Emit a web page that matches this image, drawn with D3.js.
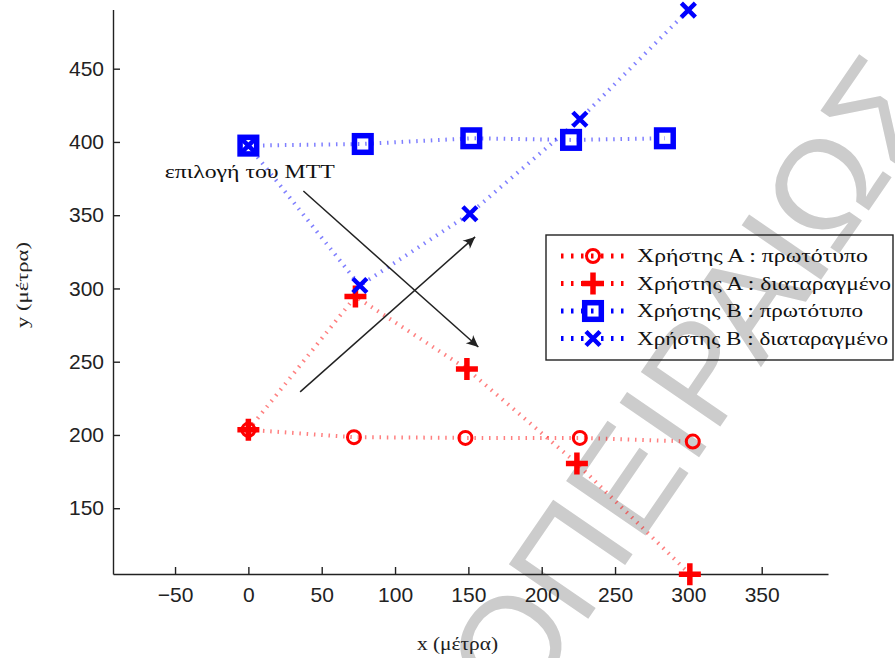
<!DOCTYPE html>
<html>
<head>
<meta charset="utf-8">
<style>
  body { margin: 0; background: white; }
  svg { display: block; }
</style>
</head>
<body>
<div id="chart"></div>
<script src="https://d3js.org/d3.v7.min.js"></script>
<script>
// ------------------------------------------------ data
var xTicks = [-50, 0, 50, 100, 150, 200, 250, 300, 350];
var yTicks = [150, 200, 250, 300, 350, 400, 450];

var aOrigX = [0, 72, 148, 226, 303];
var aOrigY = [203.5, 198.5, 198, 198, 195.5];
var aPertX = [0, 73, 149, 224, 301];
var aPertY = [203.5, 294.5, 245, 180.5, 105];
var bOrigX = [0, 78, 152, 220, 284];
var bOrigY = [397.5, 398.6, 402.5, 401.4, 402.5];
var bPertX = [0, 76, 151, 226, 300];
var bPertY = [397.5, 302, 351, 415.5, 490];

var seriesNames = ["Χρήστης Α : πρωτότυπο", "Χρήστης Α : διαταραγμένο",
                   "Χρήστης Β : πρωτότυπο", "Χρήστης Β : διαταραγμένο"];

// annotation arrows (data coords)
var arrowFrom = [[37.5, 366.5], [35.3, 229.4]];
var arrowTo = [[156.8, 260.0], [154.6, 335.2]];
var noteText = "επιλογή του MTT";
var notePos = [-57, 375.5];

var watermark = "ΟΠΕΙΡΑΙΩΣ";

// the original serif font is much wider than Liberation Serif, so stretch to measured widths
var legendTextLen = [231, 254, 226, 251];
var serif = "'Liberation Serif', 'Times New Roman', serif";

// ------------------------------------------------ setup
var width = 895, height = 658;
var svg = d3.select("#chart").append("svg")
    .attr("width", width)
    .attr("height", height);

var x = d3.scaleLinear().domain([-92.3, 395.2]).range([113, 828]);
var y = d3.scaleLinear().domain([105.1, 490.4]).range([574, 9.5]);

// watermark goes under everything
svg.append("text")
    .attr("transform", "translate(520,718) rotate(-55.5)")
    .style("font-family", "'Liberation Sans', Arial, sans-serif")
    .style("font-size", "140px")
    .style("fill", "#cccccc")
    .text(watermark);

// ------------------------------------------------ axes
svg.append("g")
    .attr("transform", "translate(0,574)")
    .call(d3.axisBottom(x).tickValues(xTicks).tickSizeInner(-7).tickSizeOuter(0).tickPadding(13));
svg.append("g")
    .attr("transform", "translate(113,0)")
    .call(d3.axisLeft(y).tickValues(yTicks).tickSizeInner(-7).tickSizeOuter(0).tickPadding(9));

svg.selectAll(".tick text")
    .style("font-family", "'Liberation Sans', Arial, sans-serif")
    .style("font-size", "21px")
    .style("fill", "#222");
svg.selectAll(".domain, .tick line")
    .style("stroke", "#222")
    .style("stroke-width", 1.4);

svg.append("text")
    .attr("x", 457.5).attr("y", 650)
    .attr("text-anchor", "middle")
    .attr("textLength", 81).attr("lengthAdjust", "spacingAndGlyphs")
    .style("font-family", serif)
    .style("font-size", "18px")
    .style("fill", "#222")
    .text("x (μέτρα)");

svg.append("text")
    .attr("transform", "translate(28,285) rotate(-90)")
    .attr("text-anchor", "middle")
    .attr("textLength", 86).attr("lengthAdjust", "spacingAndGlyphs")
    .style("font-family", serif)
    .style("font-size", "17px")
    .style("fill", "#222")
    .text("y (μέτρα)");

// ------------------------------------------------ markers
function drawMarker(g, kind, color) {
  if (kind == "circle") {
    g.append("circle").attr("r", 6.5)
      .style("fill", "none").style("stroke", color).style("stroke-width", 3);
  } else if (kind == "plus") {
    g.append("path").attr("d", "M-11,0H11M0,-11V11")
      .style("fill", "none").style("stroke", color).style("stroke-width", 5.5);
  } else if (kind == "square") {
    g.append("rect").attr("x", -8.3).attr("y", -8.3).attr("width", 16.6).attr("height", 16.6)
      .style("fill", "none").style("stroke", color).style("stroke-width", 5.5);
  } else {
    g.append("path").attr("d", "M-7,-7L7,7M-7,7L7,-7")
      .style("fill", "none").style("stroke", color).style("stroke-width", 4.5);
  }
}

var series = [
  {xs: aOrigX, ys: aOrigY, color: "#ff0000", kind: "circle"},
  {xs: aPertX, ys: aPertY, color: "#ff0000", kind: "plus"},
  {xs: bOrigX, ys: bOrigY, color: "#0000ff", kind: "square"},
  {xs: bPertX, ys: bPertY, color: "#0000ff", kind: "x"}
];

var line = d3.line()
    .x(function(d) { return x(d[0]); })
    .y(function(d) { return y(d[1]); });

series.forEach(function(s) {
  var pts = s.xs.map(function(v, i) { return [v, s.ys[i]]; });
  svg.append("path")
    .attr("d", line(pts))
    .style("fill", "none")
    .style("stroke", s.color)
    .style("stroke-opacity", 0.5)
    .style("stroke-width", 4)
    .style("stroke-dasharray", "1.5,5.8");
  pts.forEach(function(p) {
    var g = svg.append("g").attr("transform", "translate(" + x(p[0]) + "," + y(p[1]) + ")");
    drawMarker(g, s.kind, s.color);
  });
});

// ------------------------------------------------ annotation
svg.append("defs").append("marker")
    .attr("id", "head")
    .attr("viewBox", "-12 -6 13 12")
    .attr("refX", 0).attr("refY", 0)
    .attr("markerWidth", 13).attr("markerHeight", 12)
    .attr("markerUnits", "userSpaceOnUse")
    .attr("orient", "auto")
  .append("path")
    .attr("d", "M0,0 L-12,-5.5 Q-7,0 -12,5.5 Z")
    .style("fill", "#222");

arrowFrom.forEach(function(a, i) {
  svg.append("line")
    .attr("x1", x(a[0])).attr("y1", y(a[1]))
    .attr("x2", x(arrowTo[i][0])).attr("y2", y(arrowTo[i][1]))
    .attr("marker-end", "url(#head)")
    .style("stroke", "#222")
    .style("stroke-width", 1.5);
});

svg.append("text")
    .attr("x", x(notePos[0])).attr("y", y(notePos[1]))
    .attr("textLength", 170).attr("lengthAdjust", "spacingAndGlyphs")
    .style("font-family", serif)
    .style("font-size", "18px")
    .style("fill", "#111")
    .text(noteText);

// ------------------------------------------------ legend
var legend = svg.append("g");
legend.append("rect")
    .attr("x", 546).attr("y", 235)
    .attr("width", 347).attr("height", 125)
    .style("fill", "none")
    .style("stroke", "#222")
    .style("stroke-width", 1.4);

series.forEach(function(s, i) {
  var ry = 256 + i * 27.5;
  legend.append("line")
    .attr("x1", 561).attr("x2", 625).attr("y1", ry).attr("y2", ry)
    .style("stroke", s.color)
    .style("stroke-width", 5)
    .style("stroke-dasharray", "2.5,7.5");
  var g = legend.append("g").attr("transform", "translate(593," + ry + ")");
  drawMarker(g, s.kind, s.color);
  legend.append("text")
    .attr("x", 637).attr("y", ry + 6)
    .attr("textLength", legendTextLen[i]).attr("lengthAdjust", "spacingAndGlyphs")
    .style("font-family", serif)
    .style("font-size", "18px")
    .style("fill", "#111")
    .text(seriesNames[i]);
});
</script>
</body>
</html>
